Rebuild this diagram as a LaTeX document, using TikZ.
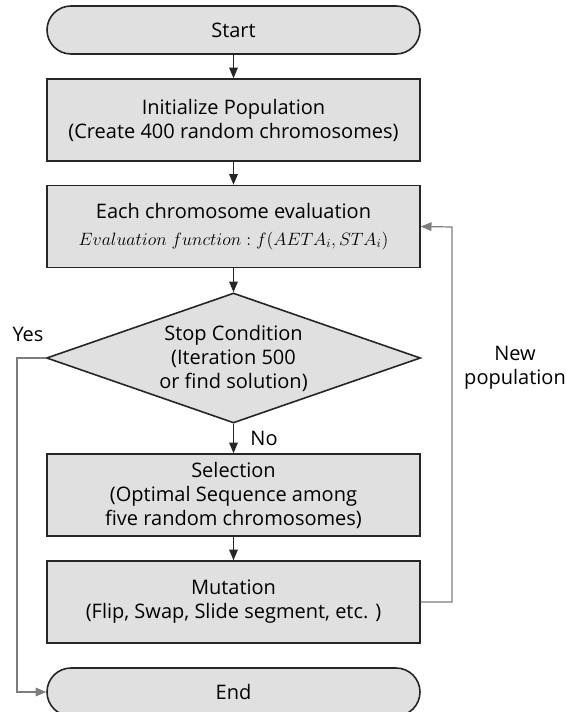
\documentclass[tikz,border=0pt]{standalone}
\usepackage{graphicx}
\usepackage{fontspec}
\setmainfont{Open Sans}
\usetikzlibrary{arrows.meta}
\usetikzlibrary{shapes.geometric}

\definecolor{boxfill}{RGB}{224,224,224}
\definecolor{boxline}{RGB}{38,38,38}
\definecolor{loopline}{RGB}{125,125,125}

\tikzset{
  terminal/.style={draw=boxline, line width=1.2pt, fill=boxfill, rounded corners=18pt,
    minimum width=279.75pt, minimum height=36pt, font=\fontsize{15}{18}\selectfont, align=center},
  process/.style={draw=boxline, line width=1.2pt, fill=boxfill,
    minimum width=279.75pt, minimum height=61.5pt, font=\fontsize{15}{18}\selectfont, align=center},
  decision/.style={draw=boxline, line width=1.2pt, fill=boxfill, diamond, aspect=2.88, inner sep=0pt,
    minimum width=280.5pt, minimum height=97.5pt, font=\fontsize{15}{18}\selectfont, align=center},
  flow/.style={draw=boxline, line width=0.9pt, -{Triangle[length=8pt,width=6.5pt]}},
  back/.style={draw=loopline, line width=0.9pt, -{Triangle[length=8pt,width=6.5pt]}},
  tag/.style={font=\fontsize{15}{18}\selectfont, align=center, inner sep=0pt}
}

\begin{document}
\begin{tikzpicture}[x=0.75pt,y=0.75pt,yscale=-1,xscale=1]
\useasboundingbox (0,0) rectangle (565,712);

% Boxes
\node [terminal] (start) at (233.5,30) {Start};
\node [process] (init) at (233.5,120) {Initialize Population\\(Create 400 random chromosomes)};
\node [process] (eval) at (233.5,226.5) {Each chromosome evaluation\\[2pt]\scalebox{0.93}{\fontsize{14}{16}\selectfont$\mathnormal{Evaluation}\;\mathnormal{function}: f(AETA_i,STA_i)$}};
\node [decision] (stop) at (233.5,358) {Stop Condition\\(Iteration 500\\or find solution)};
\node [process] (sel) at (233.5,495) {Selection\\(Optimal Sequence among\\five random chromosomes)};
\node [process] (mut) at (233.5,602) {Mutation\\(Flip, Swap, Slide segment, etc. )};
\node [terminal] (end) at (233.5,692) {End};

% Corners of the two loops
\coordinate (yesdown) at (17,358);
\coordinate (yesend) at (17,692);
\coordinate (loopdown) at (452,602);
\coordinate (loopup) at (452,227);

% Connectors
\draw [flow] (start) -- (init);
\draw [flow] (init) -- (eval);
\draw [flow] (eval) -- (stop);
\draw [flow] (stop) -- (sel);
\draw [flow] (sel) -- (mut);
\draw [back] (stop.west) -- (yesdown) -- (yesend) -- (end.west);
\draw [back] (mut.east) -- (loopdown) -- (loopup) -- (eval.east);

% Labels
\node [tag] (yes) at (28,334) {Yes};
\node [tag] (no) at (264,438) {No};
\node [tag] (newpop) at (515,368) {New\\population};

\end{tikzpicture}
\end{document}
